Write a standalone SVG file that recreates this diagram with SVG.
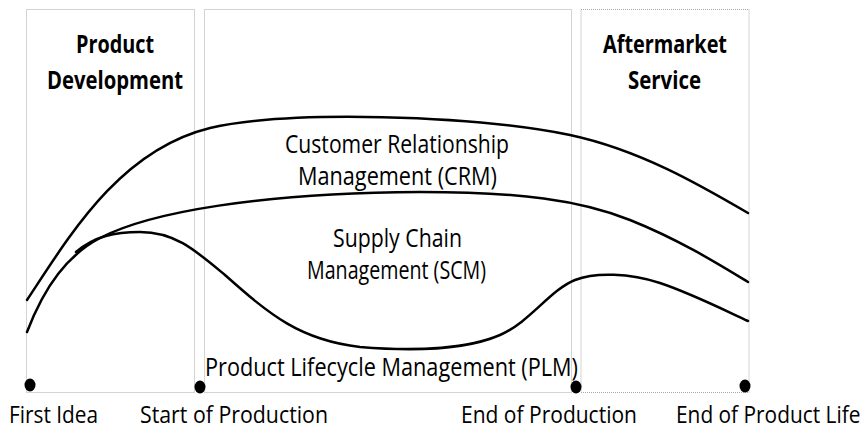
<svg xmlns="http://www.w3.org/2000/svg" width="866" height="430" viewBox="0 0 866 430">
<style>
.box{fill:none;stroke:#a8a8a8;stroke-width:1;stroke-dasharray:1 1}
.t{font-family:"Open Sans","Liberation Sans",sans-serif;font-size:25px;fill:#000}
.s{font-size:24px}
.b{font-weight:bold}
.c{fill:none;stroke:#000;stroke-width:2.5;stroke-linecap:round}
.dot{fill:#000}
</style>
<rect width="866" height="430" fill="#fff"/>
<g id="phase-development">
<rect class="box" x="26.5" y="9.5" width="168" height="383"/>
<text class="t b" x="76" y="53" textLength="78" lengthAdjust="spacingAndGlyphs">Product</text>
<text class="t b" x="47" y="89" textLength="136" lengthAdjust="spacingAndGlyphs">Development</text>
</g>
<g id="phase-production">
<rect class="box" x="204.5" y="9.5" width="367" height="383"/>
</g>
<g id="phase-aftermarket">
<rect class="box" x="581" y="9.5" width="168" height="383"/>
<text class="t b" x="603" y="53" textLength="124" lengthAdjust="spacingAndGlyphs">Aftermarket</text>
<text class="t b" x="628" y="89" textLength="73" lengthAdjust="spacingAndGlyphs">Service</text>
</g>
<g id="curves">
<path class="c" d="M27,300 C70,235 120,150 210,128 C290,110 470,115 570,135 C640,150 700,185 748,213"/>
<path class="c" d="M27,332 C45,285 68,255 100,238 C150,212 260,193 420,192 C520,192 580,200 630,220 C680,240 720,265 748,282"/>
<path class="c" d="M76,252 C95,236 115,232 140,232 C175,232 195,250 225,275 C270,315 300,340 360,347 C420,352 470,348 500,335 C530,322 550,290 575,280 C595,272 630,273 660,283 C690,293 720,308 748,321"/>
</g>
<g id="crm">
<text class="t" x="285" y="153" textLength="224" lengthAdjust="spacingAndGlyphs">Customer Relationship</text>
<text class="t" x="298" y="185" textLength="199" lengthAdjust="spacingAndGlyphs">Management (CRM)</text>
</g>
<g id="scm">
<text class="t" x="333" y="247" textLength="129" lengthAdjust="spacingAndGlyphs">Supply Chain</text>
<text class="t" x="307" y="279" textLength="179" lengthAdjust="spacingAndGlyphs">Management (SCM)</text>
</g>
<g id="plm">
<text class="t" x="205" y="376" textLength="373" lengthAdjust="spacingAndGlyphs">Product Lifecycle Management (PLM)</text>
</g>
<g id="first-idea">
<ellipse class="dot" cx="30" cy="385" rx="5.5" ry="6.5"/>
<text class="t s" x="9" y="423" textLength="89" lengthAdjust="spacingAndGlyphs">First Idea</text>
</g>
<g id="start-of-production">
<ellipse class="dot" cx="200" cy="387" rx="5.5" ry="6.5"/>
<text class="t s" x="140" y="423" textLength="188" lengthAdjust="spacingAndGlyphs">Start of Production</text>
</g>
<g id="end-of-production">
<ellipse class="dot" cx="576" cy="387" rx="5.5" ry="6.5"/>
<text class="t s" x="461" y="423" textLength="176" lengthAdjust="spacingAndGlyphs">End of Production</text>
</g>
<g id="end-of-product-life">
<ellipse class="dot" cx="745" cy="386" rx="5.5" ry="6.5"/>
<text class="t s" transform="translate(676,423) scale(0.87,1)" x="0" y="0" textLength="212" lengthAdjust="spacingAndGlyphs">End of Product Life</text>
</g>
</svg>
